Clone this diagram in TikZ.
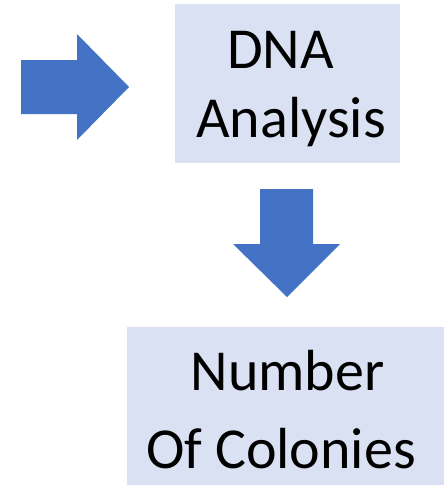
\documentclass[tikz,border=0pt]{standalone}
\usepackage{fontspec}
\setmainfont{Carlito}
\usepackage{xcolor}
\usetikzlibrary{arrows.meta}
\definecolor{arrowblue}{HTML}{4472C4}
\definecolor{boxfill}{HTML}{DAE1F3}

\begin{document}
\begin{tikzpicture}[x=1pt,y=-1pt,
		box/.style={fill=boxfill, draw=none, inner sep=0pt},
		label/.style={anchor=base, inner sep=0pt, font=\fontsize{58}{70}\selectfont},
		blockarrow/.style={fill=arrowblue, draw=none}]
				% Page frame
				\clip (0,0) rectangle (444,485);
				\fill[white] (0,0) rectangle (444,485);
				
				% First box
				\node[box, minimum width=225pt, minimum height=159pt] (dnabox) at (287.5,83.5) {};
				\node[label] (dna) at (280.5,68) {DNA};
				\node[label] (analysis) at (291,137) {Analysis};
				
				% Second box (runs past the page edge)
				\node[box, anchor=north west, minimum width=330pt, minimum height=170pt] (colbox) at (127,327) {};
				\node[label] (number) at (287.5,390) {Number};
				\node[label] (colonies) at (281,468) {Of Colonies};
				
				% Arrow pointing right
				\fill[blockarrow] (21,60) -- (77,60) -- (77,34) -- (129,87) -- (77,140) -- (77,114) -- (21,114) -- cycle;
				
				% Arrow pointing down
				\fill[blockarrow] (260,189) -- (313,189) -- (313,244) -- (340,244) -- (287,297) -- (233,244) -- (260,244) -- cycle;
				
			\end{tikzpicture}
\end{document}
